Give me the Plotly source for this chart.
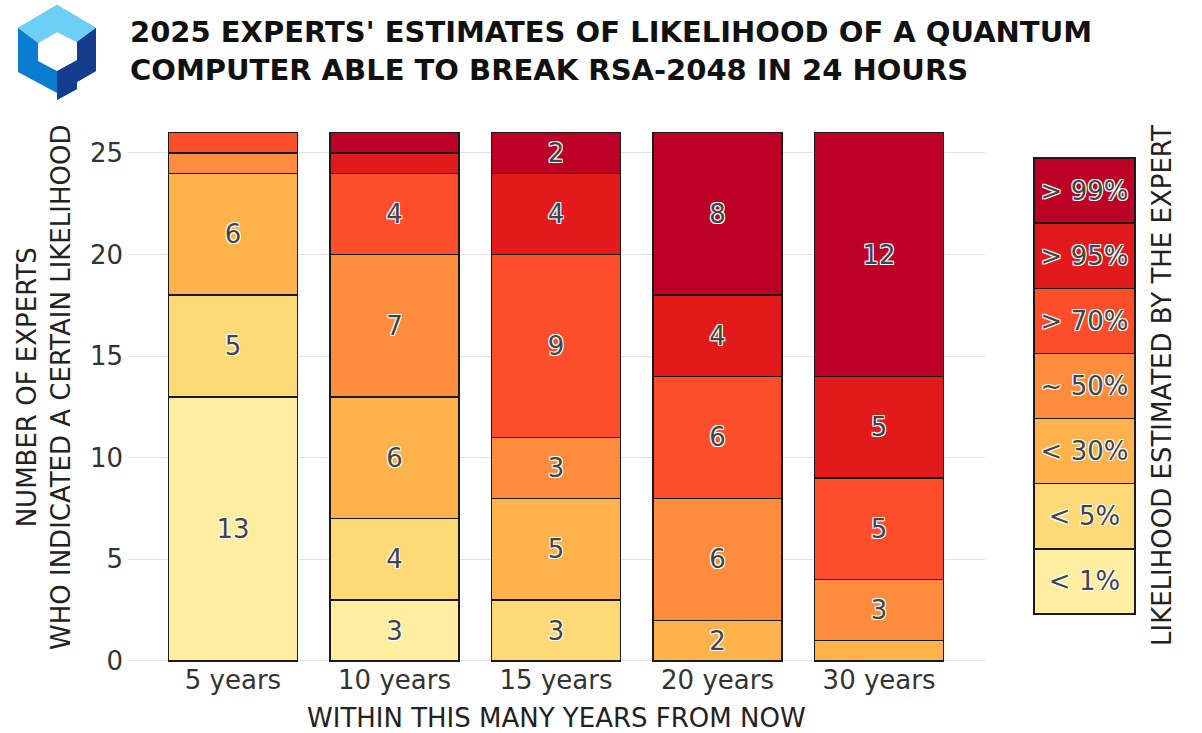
import plotly.graph_objects as go

W, H = 1202, 733

categories = ["5 years", "10 years", "15 years", "20 years", "30 years"]
likelihood_labels = ["< 1%", "< 5%", "< 30%", "~ 50%", "> 70%", "> 95%", "> 99%"]
colors = ["#ffeda0", "#fed976", "#feb24c", "#fd8d3c", "#fc4e2a", "#e31a1c", "#bd0026"]

lt1 = [13, 3, None, None, None]
lt5 = [5, 4, 3, None, None]
lt30 = [6, 6, 5, 2, 1]
approx50 = [1, 7, 3, 6, 3]
gt70 = [1, 4, 9, 6, 5]
gt95 = [None, 1, 4, 4, 5]
gt99 = [None, 1, 2, 8, 12]
series = [lt1, lt5, lt30, approx50, gt70, gt95, gt99]

y_ticks = [0, 5, 10, 15, 20, 25]

FONT = "DejaVu Sans"
TXT = "#444444"
HALO = "-1px -1px 0 #fff, 1px -1px 0 #fff, -1px 1px 0 #fff, 1px 1px 0 #fff"


def px(x):
    return x / W


def py(y):
    return 1 - y / H


fig = go.Figure()
for lab, col, vals in zip(likelihood_labels, colors, series):
    fig.add_trace(go.Bar(
        x=categories, y=vals, name=lab,
        marker=dict(color=col, line=dict(color="#1a1a1a", width=1.5)),
        text=[str(v) if (v is not None and v > 1) else "" for v in vals],
        textposition="inside", insidetextanchor="middle",
        textfont=dict(family=FONT, size=26, color=TXT, shadow=HALO),
        textangle=0, constraintext="none",
        showlegend=False, hoverinfo="skip",
        xaxis="x", yaxis="y",
    ))
    # legend column
    fig.add_trace(go.Bar(
        x=[""], y=[1], name=lab,
        marker=dict(color=col, line=dict(color="#1a1a1a", width=1.5)),
        text=[lab], textposition="inside", insidetextanchor="middle",
        textfont=dict(family=FONT, size=26, color=TXT, shadow=HALO),
        textangle=0, constraintext="none",
        showlegend=False, hoverinfo="skip", width=1,
        xaxis="x2", yaxis="y2",
    ))

# logo shapes
def path(points):
    s = "M " + " L ".join(f"{px(a):.5f},{py(b):.5f}" for a, b in points) + " Z"
    return s

logo = [
    ([(18, 28), (57, 5), (96, 28), (96, 71), (77, 82), (77, 89), (57, 100), (57, 93), (18, 72)], "#0b7dd0"),
    ([(18, 28), (57, 5), (96, 28), (77, 42), (57, 32), (38, 43)], "#6dcff5"),
    ([(96, 28), (96, 71), (77, 82), (77, 89), (57, 100), (57, 71), (77, 60), (77, 42)], "#153d8d"),
    ([(57, 32), (77, 42), (77, 60), (57, 71), (38, 61), (38, 43)], "#ffffff"),
]
shapes = [dict(type="path", xref="paper", yref="paper", path=path(p), fillcolor=c,
               line=dict(width=0), layer="above") for p, c in logo]

annotations = [
    dict(text="<b>2025 EXPERTS' ESTIMATES OF LIKELIHOOD OF A QUANTUM<br>"
              "COMPUTER ABLE TO BREAK RSA-2048 IN 24 HOURS</b>",
         x=px(128), y=py(51), xref="paper", yref="paper", xanchor="left", yanchor="middle",
         align="left", showarrow=False, font=dict(family=FONT, size=29, color="#111111")),
    dict(text="NUMBER OF EXPERTS<br>WHO INDICATED A CERTAIN LIKELIHOOD",
         x=px(44), y=py(388), xref="paper", yref="paper", xanchor="center", yanchor="middle",
         textangle=-90, showarrow=False, font=dict(family=FONT, size=26, color="#222222")),
    dict(text="WITHIN THIS MANY YEARS FROM NOW",
         x=px(556), y=py(718), xref="paper", yref="paper", xanchor="center", yanchor="middle",
         showarrow=False, font=dict(family=FONT, size=26, color="#222222")),
    dict(text="LIKELIHOOD ESTIMATED BY THE EXPERT",
         x=px(1162), y=py(386), xref="paper", yref="paper", xanchor="center", yanchor="middle",
         textangle=-90, showarrow=False, font=dict(family=FONT, size=26, color="#222222")),
]

fig.update_layout(
    width=W, height=H,
    margin=dict(l=0, r=0, t=0, b=0, pad=0, autoexpand=False),
    paper_bgcolor="white", plot_bgcolor="white",
    barmode="stack", bargap=0.2,
    xaxis=dict(domain=[px(128), px(985)], range=[-0.65, 4.656], showgrid=False,
               showline=False, zeroline=False, ticks="", automargin=False,
               tickfont=dict(family=FONT, size=26, color="#333333")),
    yaxis=dict(domain=[py(662.2), py(130.2)], range=[-0.06, 26.12], tickvals=y_ticks,
               showgrid=True, gridcolor="#e3e3e3", gridwidth=1, zeroline=False,
               showline=False, ticks="", automargin=False, ticklabelstandoff=4,
               tickfont=dict(family=FONT, size=26, color="#333333")),
    xaxis2=dict(domain=[px(1029), px(1140)], range=[-0.55, 0.55], visible=False,
                anchor="y2", automargin=False),
    yaxis2=dict(domain=[py(617.3), py(154.7)], range=[-0.05, 7.05], visible=False,
                anchor="x2", automargin=False),
    shapes=shapes,
    annotations=annotations,
)

fig.write_html("out.html")
